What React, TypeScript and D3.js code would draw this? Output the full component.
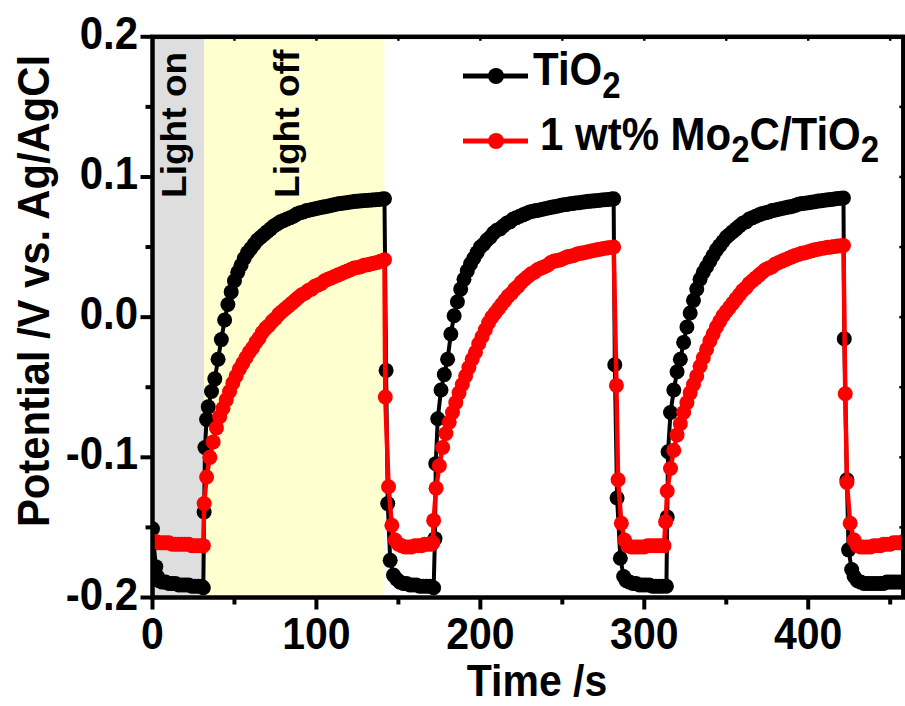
import React from 'react';
import * as d3 from 'd3';

// ---------- data ----------
const lightOnRegion: [number, number] = [0, 31.5];
const lightOffRegion: [number, number] = [31.5, 141.5];

const xTicks = [0, 100, 200, 300, 400];
const xMinorTicks = [50, 150, 250, 350, 450];
const yTicks = [-0.2, -0.1, 0.0, 0.1, 0.2];
const yTickLabels = ['-0.2', '-0.1', '0.0', '0.1', '0.2'];
const yMinorTicks = [-0.15, -0.05, 0.05, 0.15];

// TiO2 : [time (s), potential (V)]
const tio2Points: [number, number][] = [
  [0,-0.151],[2,-0.178],[3,-0.185],[4,-0.188],[6,-0.189],[8,-0.189],[10,-0.190],[12,-0.190],[14,-0.190],[16,-0.191],[18,-0.191],[20,-0.191],[22,-0.191],[24,-0.192],[26,-0.192],[28,-0.192],[30,-0.192],[31,-0.193],
  [31.5,-0.139],[32,-0.093],[33,-0.073],[34,-0.064],[36,-0.053],[38,-0.044],[40,-0.030],[42,-0.016],[44,-0.002],[46,0.009],[48,0.018],[50,0.026],[52,0.032],[54,0.037],[56,0.042],[58,0.046],[60,0.049],[62,0.052],[64,0.055],[66,0.057],[68,0.059],[70,0.061],[72,0.063],[74,0.065],[76,0.0665],[78,0.068],[80,0.069],[82,0.070],[84,0.071],[86,0.072],[88,0.0735],[90,0.0745],[92,0.075],[94,0.076],[96,0.0765],[98,0.077],[100,0.0775],[102,0.078],[104,0.0785],[106,0.079],[108,0.0795],[110,0.080],[112,0.0805],[114,0.081],[116,0.0813],[118,0.0816],[120,0.082],[122,0.0823],[124,0.0826],[126,0.0828],[128,0.083],[130,0.0832],[132,0.0834],[134,0.0836],[136,0.0838],[138,0.084],[140,0.0842],[141.5,0.0845],
  [142.5,-0.038],[143.5,-0.133],[145,-0.1735],[147,-0.184],[149,-0.187],[151,-0.189],[153,-0.190],[155,-0.190],[157,-0.191],[159,-0.191],[161,-0.191],[163,-0.192],[165,-0.192],[167,-0.192],[169,-0.192],[171.5,-0.193],
  [172.3,-0.158],[172.8,-0.1045],[174,-0.0725],[176,-0.052],[178,-0.041],[180,-0.030],[182,-0.012],[184,0.001],[186,0.011],[188,0.020],[190,0.027],[192,0.033],[194,0.038],[196,0.042],[198,0.046],[200,0.050],[202,0.052],[204,0.055],[206,0.057],[208,0.060],[210,0.062],[212,0.063],[214,0.065],[216,0.067],[218,0.068],[220,0.070],[222,0.071],[224,0.072],[226,0.073],[228,0.074],[230,0.075],[232,0.0755],[234,0.076],[236,0.0765],[238,0.077],[240,0.0775],[242,0.078],[244,0.0785],[246,0.079],[248,0.0795],[250,0.080],[252,0.0803],[254,0.0807],[256,0.081],[258,0.0814],[260,0.0817],[262,0.082],[264,0.0823],[266,0.0826],[268,0.0828],[270,0.083],[272,0.0833],[274,0.0836],[276,0.0838],[278,0.084],[280,0.0842],[281.3,0.0844],
  [282,-0.034],[283.4,-0.129],[285.4,-0.172],[287.4,-0.185],[289,-0.188],[291,-0.189],[293,-0.190],[295,-0.190],[297,-0.191],[299,-0.191],[301,-0.191],[303,-0.191],[305,-0.192],[307,-0.192],[309,-0.192],[311,-0.192],[313.5,-0.192],
  [314,-0.1426],[314.5,-0.096],[316,-0.068],[318,-0.052],[320,-0.039],[322,-0.030],[324,-0.018],[326,-0.007],[328,0.003],[330,0.012],[332,0.020],[334,0.027],[336,0.032],[338,0.036],[340,0.040],[342,0.044],[344,0.048],[346,0.051],[348,0.054],[350,0.057],[352,0.059],[354,0.061],[356,0.063],[358,0.065],[360,0.067],[362,0.068],[364,0.070],[366,0.071],[368,0.072],[370,0.073],[372,0.074],[374,0.0745],[376,0.075],[378,0.076],[380,0.0765],[382,0.077],[384,0.0775],[386,0.078],[388,0.0785],[390,0.079],[392,0.0797],[394,0.0805],[396,0.081],[398,0.0813],[400,0.0817],[402,0.082],[404,0.0824],[406,0.0828],[408,0.083],[410,0.0834],[412,0.0837],[414,0.084],[416,0.0843],[418,0.0846],[420,0.0848],[421.5,0.085],
  [422,-0.0154],[423.6,-0.116],[424.6,-0.166],[426.5,-0.180],[428,-0.185],[430,-0.188],[432,-0.189],[434,-0.190],[436,-0.190],[438,-0.190],[440,-0.190],[442,-0.190],[444,-0.190],[446,-0.190],[448,-0.189],[450,-0.189],[452,-0.189],[454,-0.189],[456,-0.189],[458,-0.189],
];

// 1 wt% Mo2C/TiO2 : [time (s), potential (V)]
const mo2cPoints: [number, number][] = [
  [0,-0.160],[2,-0.160],[4,-0.161],[6,-0.161],[8,-0.161],[10,-0.161],[12,-0.162],[14,-0.162],[16,-0.162],[18,-0.162],[20,-0.162],[22,-0.162],[24,-0.163],[26,-0.163],[28,-0.163],[30,-0.163],[31,-0.163],
  [31.5,-0.133],[33,-0.114],[35,-0.100],[37,-0.089],[39,-0.079],[41,-0.071],[43,-0.065],[45,-0.059],[47,-0.053],[49,-0.047],[51,-0.042],[53,-0.037],[55,-0.033],[57,-0.029],[59,-0.025],[61,-0.022],[63,-0.018],[65,-0.015],[67,-0.011],[69,-0.008],[71,-0.006],[73,-0.003],[75,-0.001],[77,0.002],[79,0.004],[81,0.006],[83,0.008],[85,0.010],[87,0.012],[89,0.014],[91,0.016],[93,0.017],[95,0.019],[97,0.020],[99,0.022],[101,0.023],[103,0.024],[105,0.026],[107,0.027],[109,0.028],[111,0.029],[113,0.030],[115,0.031],[117,0.032],[119,0.033],[121,0.034],[123,0.035],[125,0.0355],[127,0.036],[129,0.037],[131,0.0373],[133,0.038],[135,0.0385],[137,0.039],[139,0.0398],[141.5,0.041],
  [142,-0.057],[144,-0.121],[146,-0.1485],[148,-0.159],[150,-0.162],[152,-0.163],[154,-0.164],[156,-0.164],[158,-0.164],[160,-0.163],[162,-0.163],[164,-0.163],[166,-0.162],[168,-0.162],[170,-0.162],[171,-0.161],
  [171.5,-0.145],[173,-0.122],[175,-0.106],[177,-0.093],[179,-0.083],[181,-0.075],[183,-0.068],[185,-0.061],[187,-0.054],[189,-0.048],[191,-0.042],[193,-0.036],[195,-0.030],[197,-0.025],[199,-0.019],[201,-0.014],[203,-0.009],[205,-0.004],[207,0.000],[209,0.003],[211,0.006],[213,0.009],[215,0.012],[217,0.015],[219,0.017],[221,0.020],[223,0.022],[225,0.025],[227,0.027],[229,0.029],[231,0.031],[233,0.032],[235,0.034],[237,0.035],[239,0.036],[241,0.037],[243,0.039],[245,0.040],[247,0.0405],[249,0.041],[251,0.042],[253,0.043],[255,0.0435],[257,0.044],[259,0.045],[261,0.0455],[263,0.046],[265,0.0465],[267,0.047],[269,0.0475],[271,0.048],[273,0.0485],[275,0.049],[277,0.0493],[279,0.0497],[281.3,0.050],
  [283,-0.0487],[284,-0.116],[286,-0.147],[288,-0.159],[290,-0.163],[292,-0.164],[294,-0.164],[296,-0.164],[298,-0.164],[300,-0.164],[302,-0.163],[304,-0.163],[306,-0.163],[308,-0.163],[310,-0.163],[312,-0.163],
  [313,-0.146],[314,-0.124],[316,-0.108],[318,-0.095],[320,-0.084],[322,-0.076],[324,-0.068],[326,-0.061],[328,-0.054],[330,-0.048],[332,-0.042],[334,-0.035],[336,-0.029],[338,-0.023],[340,-0.017],[342,-0.012],[344,-0.007],[346,-0.003],[348,0.001],[350,0.004],[352,0.007],[354,0.010],[356,0.013],[358,0.016],[360,0.019],[362,0.021],[364,0.024],[366,0.026],[368,0.028],[370,0.030],[372,0.032],[374,0.034],[376,0.035],[378,0.036],[380,0.038],[382,0.039],[384,0.040],[386,0.041],[388,0.042],[390,0.043],[392,0.044],[394,0.0447],[396,0.0455],[398,0.046],[400,0.0467],[402,0.0473],[404,0.048],[406,0.0485],[408,0.049],[410,0.0494],[412,0.0498],[414,0.050],[416,0.0504],[418,0.0507],[420,0.051],[421.5,0.0511],
  [422.6,-0.0546],[423.6,-0.118],[425.6,-0.147],[428,-0.159],[430,-0.163],[432,-0.164],[434,-0.164],[436,-0.164],[438,-0.164],[440,-0.163],[442,-0.163],[444,-0.163],[446,-0.162],[448,-0.162],[450,-0.162],[452,-0.161],[454,-0.161],[456,-0.161],[458,-0.160],
];

const seriesNames = ['TiO', '1 wt% Mo'];

// ---------- layout ----------
const W = 905;
const H = 706;
const PL = 152.5, PR = 903.3, PT = 36.8, PB = 597.5;
const FONT = '"Liberation Sans", Arial, sans-serif';

export default function App() {
  const x = d3.scaleLinear().domain([0, 458]).range([PL, PR]);
  const y = d3.scaleLinear().domain([-0.2, 0.2]).range([PB, PT]);
  const line = d3.line<[number, number]>().x(d => x(d[0])).y(d => y(d[1]));

  const series = [
    { pts: tio2Points, color: '#000000', width: 4 },
    { pts: mo2cPoints, color: '#ff0000', width: 4.5 },
  ];

  return (
    <svg width={W} height={H} style={{ position: 'absolute', left: 0, top: 0, background: '#fff' }}
      fontFamily={FONT} fontWeight="bold">
      <defs>
        <clipPath id="plotClip">
          <rect x={PL} y={PT} width={PR - PL} height={PB - PT} />
        </clipPath>
      </defs>
      {/* light regions */}
      <rect x={x(lightOnRegion[0])} y={PT} width={x(lightOnRegion[1]) - x(lightOnRegion[0])} height={PB - PT} fill="#dedede" />
      <rect x={x(lightOffRegion[0])} y={PT} width={x(lightOffRegion[1]) - x(lightOffRegion[0])} height={PB - PT} fill="#ffffd0" />

      {/* data */}
      <g clipPath="url(#plotClip)">
        {series.map((s, i) => (
          <g key={i}>
            <path d={line(s.pts) || ''} fill="none" stroke={s.color} strokeWidth={s.width} strokeLinejoin="round" />
            {s.pts.map((p, j) => (
              <circle key={j} cx={x(p[0])} cy={y(p[1])} r={7.5} fill={s.color} />
            ))}
          </g>
        ))}
      </g>

      {/* region labels */}
      <g transform={`translate(186,198) rotate(-90) scale(1.06,1)`}>
        <text x={0} y={0} fontSize={35} fill="#000">Light on</text>
      </g>
      <g transform={`translate(299,198) rotate(-90) scale(1.06,1)`}>
        <text x={0} y={0} fontSize={35} fill="#000">Light off</text>
      </g>

      {/* frame */}
      <rect x={PL} y={PT} width={PR - PL} height={PB - PT} fill="none" stroke="#000" strokeWidth={4.5} />

      {/* x ticks */}
      {xTicks.map(t => (
        <line key={'xt' + t} x1={x(t)} x2={x(t)} y1={PB} y2={PB + 12} stroke="#000" strokeWidth={4} />
      ))}
      {xMinorTicks.map(t => (
        <line key={'xm' + t} x1={x(t)} x2={x(t)} y1={PB} y2={PB + 7} stroke="#000" strokeWidth={4} />
      ))}
      {xTicks.concat(xMinorTicks).map(t => (
        <line key={'xtt' + t} x1={x(t)} x2={x(t)} y1={PT} y2={PT + 4} stroke="#000" strokeWidth={2.5} />
      ))}
      {xTicks.map(t => (
        <g key={'xl' + t} transform={`translate(${x(t)},${PB + 51}) scale(1,1.1)`}>
          <text textAnchor="middle" fontSize={41} fill="#000">{t}</text>
        </g>
      ))}

      {/* y ticks */}
      {yTicks.map(v => (
        <line key={'yt' + v} x1={PL - 12} x2={PL} y1={y(v)} y2={y(v)} stroke="#000" strokeWidth={4} />
      ))}
      {yMinorTicks.map(v => (
        <line key={'ym' + v} x1={PL - 7} x2={PL} y1={y(v)} y2={y(v)} stroke="#000" strokeWidth={4} />
      ))}
      {yTicks.concat(yMinorTicks).map(v => (
        <line key={'yr' + v} x1={PR - 4} x2={PR} y1={y(v)} y2={y(v)} stroke="#000" strokeWidth={2.5} />
      ))}
      {yTicks.map((v, i) => (
        <g key={'yl' + v} transform={`translate(138,${y(v) + 12}) scale(1,1.1)`}>
          <text textAnchor="end" fontSize={42} fill="#000">{yTickLabels[i]}</text>
        </g>
      ))}

      {/* axis titles */}
      <g transform={`translate(537,696) scale(1,1.08)`}>
        <text textAnchor="middle" fontSize={41} fill="#000">Time /s</text>
      </g>
      <g transform={`translate(49,291) rotate(-90) scale(0.95,1)`}>
        <text textAnchor="middle" fontSize={44} fill="#000">Potential /V vs. Ag/AgCl</text>
      </g>

      {/* legend */}
      <line x1={463} x2={528} y1={76} y2={76} stroke="#000" strokeWidth={5} />
      <circle cx={496} cy={76} r={8} fill="#000" />
      <g transform="translate(533,85) scale(1,1.1)">
        <text fontSize={42} fill="#000">{seriesNames[0]}<tspan fontSize={33} dy={12}>2</tspan></text>
      </g>
      <line x1={463} x2={528} y1={141} y2={141} stroke="#ff0000" strokeWidth={5} />
      <circle cx={496} cy={141} r={8} fill="#ff0000" />
      <g transform="translate(540,150) scale(1,1.1)">
        <text fontSize={42} fill="#000">{seriesNames[1]}<tspan fontSize={33} dy={11}>2</tspan><tspan dy={-11} fontSize={42}>C/TiO</tspan><tspan fontSize={33} dy={11}>2</tspan></text>
      </g>
    </svg>
  );
}
